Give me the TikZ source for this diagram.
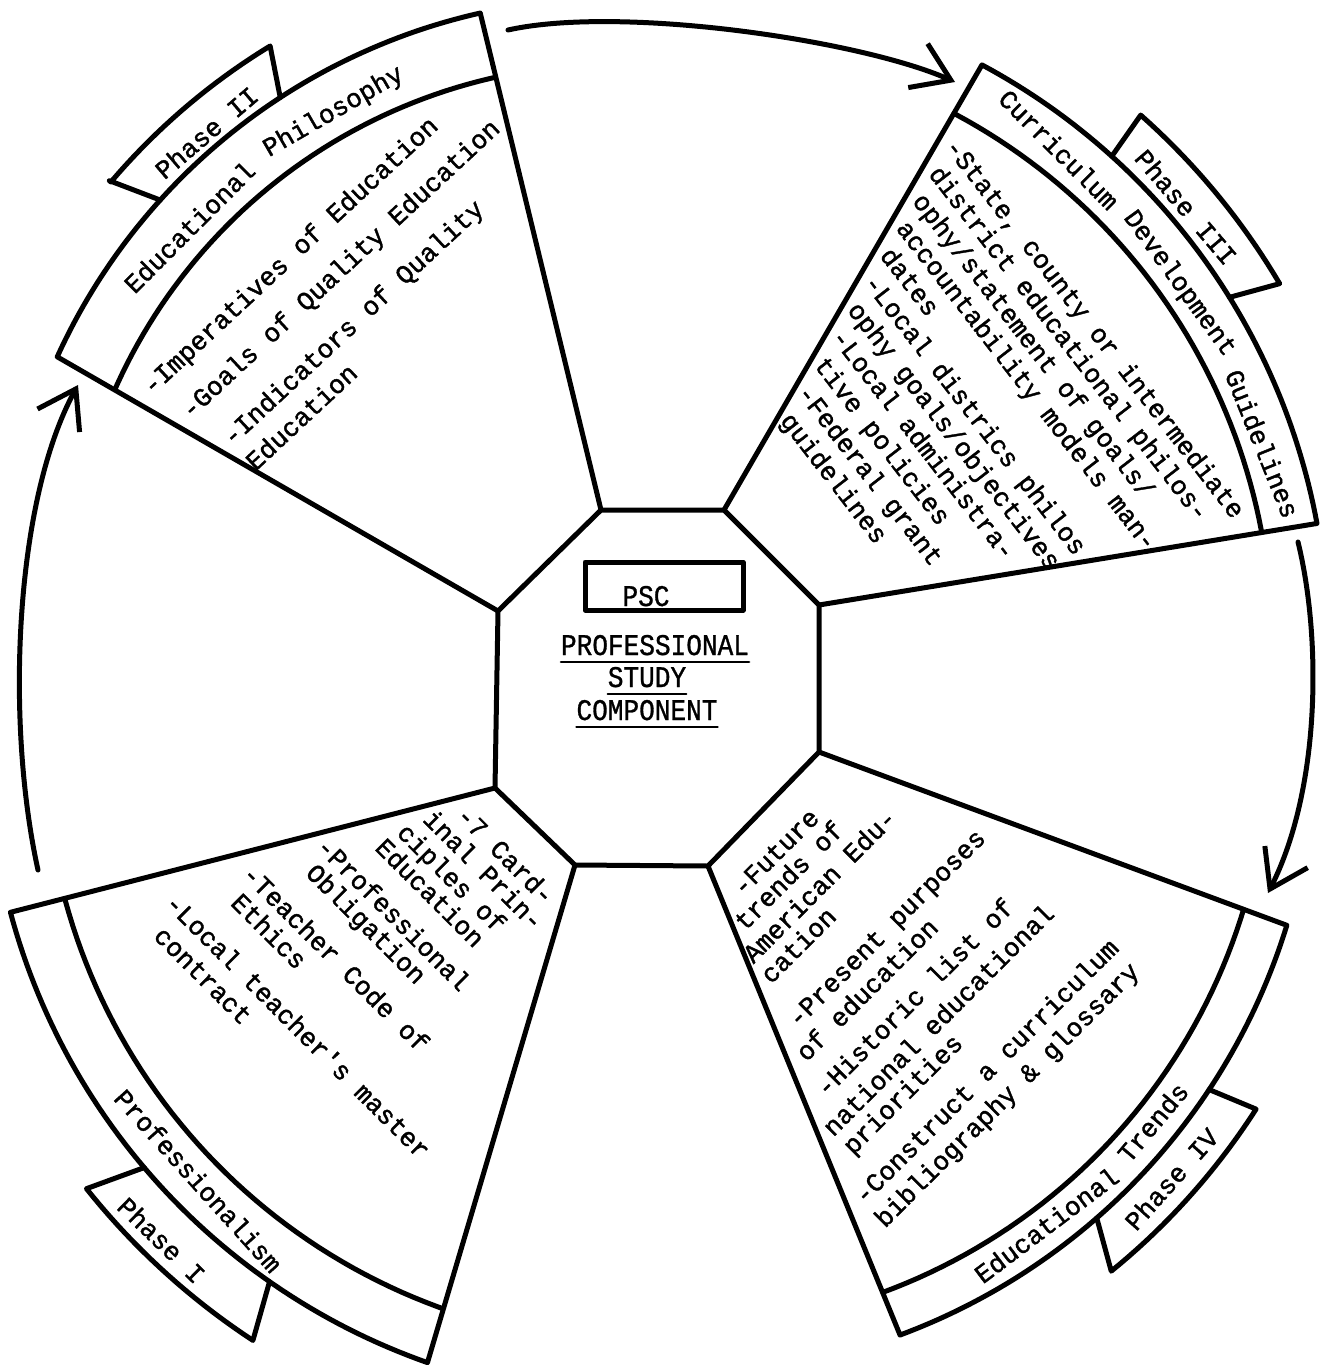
\documentclass[tikz,border=0pt]{standalone}
\usepackage{fontspec}
\newfontfamily\tw[FakeBold=1.4]{Liberation Mono}
\newfontfamily\twc[FakeStretch=0.87,FakeBold=1]{Liberation Mono}
\usetikzlibrary{arrows.meta}
\newcommand\tws{\tw\fontsize{26.2}{30}\selectfont}
\newcommand\twcs{\twc\fontsize{30}{34}\selectfont}
% one typed block: lines stacked with exact baseline gaps
\newcommand\tyblock[1]{\vtop{\baselineskip=0pt\lineskip=0pt\lineskiplimit=-1000pt\relax #1}}
\newcommand\tyfirst[2]{\hbox{\kern#1pt\relax #2}}
\newcommand\tyline[3]{\vskip#1pt\hbox{\kern#2pt\relax #3}}
\begin{document}
\begin{tikzpicture}[x=1pt,y=-1pt,line join=round,line cap=round,
  ln/.style={line width=5pt},
  uline/.style={line width=2.2pt},
  body/.style={font=\tws, anchor=base west, inner sep=0pt},
  ttl/.style={font=\tws, anchor=base, inner sep=0pt},
  ctr/.style={font=\twcs, anchor=base, inner sep=0pt},
  arr/.style={line width=5pt, -{Straight Barb[length=36pt,width=48pt]}}]
\useasboundingbox (0,0) rectangle (1328,1366);

% ---------------- central octagon
\coordinate (V1) at (601,510);
\coordinate (V2) at (724,510);
\coordinate (V3) at (819,605);
\coordinate (V4) at (819,752);
\coordinate (V5) at (708,866);
\coordinate (V6) at (575,865);
\coordinate (V7) at (495,788);
\coordinate (V8) at (498,611);
\draw[ln] (V1)--(V2)--(V3)--(V4)--(V5)--(V6)--(V7)--(V8)--cycle;

\node[draw, ln, minimum width=158pt, minimum height=48pt, inner sep=0pt] (box) at (664,586) {};
\node[ctr] (psc) at (646,606) {PSC};
\node[ctr] (pro) at (655,655) {PROFESSIONAL};
\node[ctr] (stu) at (647,687) {STUDY};
\node[ctr] (com) at (647,720) {COMPONENT};
\draw[uline] ([yshift=-7pt]pro.base west) -- ([yshift=-7pt]pro.base east);
\draw[uline] ([yshift=-7pt]stu.base west) -- ([yshift=-7pt]stu.base east);
\draw[uline] ([yshift=-7pt]com.base west) -- ([yshift=-7pt]com.base east);

% ---------------- Phase II sector (centre 615,611)
\draw[ln] (V8) -- plot[domain=204.5:257.3,samples=60] ({615+613*cos(\x)},{611+613*sin(\x)}) -- (V1);
\begin{scope}
  \clip (V8) -- plot[domain=204.5:257.3,samples=60] ({615+613*cos(\x)},{611+613*sin(\x)}) -- (V1) -- cycle;
  \draw[ln] plot[domain=195:265,samples=60] ({615+547*cos(\x)},{611+547*sin(\x)});
\end{scope}
\draw[ln] ({615+613*cos(222.1)},{611+613*sin(222.1)}) -- ({615+664*cos(220.4)},{611+664*sin(220.4)})
   -- plot[domain=220.4:238.6,samples=20] ({615+662*cos(\x)},{611+662*sin(\x)})
   -- ({615+613*cos(236.9)},{611+613*sin(236.9)});
\node[ttl, rotate=45] (t2a) at ({615+564*cos(222.0)},{611+564*sin(222.0)}) {Educational};
\node[ttl, rotate=30] (t2b) at ({615+566*cos(240.6)},{611+566*sin(240.6)}) {Philosophy};
\node[ttl, rotate=40.5] (t2p) at ({615+620*cos(229.5)},{611+620*sin(229.5)}) {Phase II};
\node[body, rotate=43] (p2) at (152,396) {\tyblock{%
  \tyfirst{0}{-Imperatives of Education}%
  \tyline{44}{12}{-Goals of Quality Education}%
  \tyline{48}{24}{-Indicators of Quality}%
  \tyline{34}{24}{Education}}};

% ---------------- Phase III sector (centre 672,643)
\draw[ln] (V2) -- plot[domain=-61.8:-10.5,samples=60] ({672+656*cos(\x)},{643+656*sin(\x)}) -- (V3);
\begin{scope}
  \clip (V2) -- plot[domain=-61.8:-10.5,samples=60] ({672+656*cos(\x)},{643+656*sin(\x)}) -- (V3) -- cycle;
  \draw[ln] plot[domain=-70:0,samples=60] ({672+600*cos(\x)},{643+600*sin(\x)});
\end{scope}
\draw[ln] ({672+656*cos(-47.9)},{643+656*sin(-47.9)}) -- ({672+706*cos(-48.4)},{643+706*sin(-48.4)})
   -- plot[domain=-48.4:-30.6,samples=20] ({672+706*cos(\x)},{643+706*sin(\x)})
   -- ({672+656*cos(-31.8)},{643+656*sin(-31.8)});
\node[ttl, rotate=-45] (t3a) at ({672+618*cos(-52.0)},{643+618*sin(-52.0)}) {Curriculum};
\node[ttl, rotate=-54] (t3b) at ({672+615*cos(-35.3)},{643+615*sin(-35.3)}) {Development};
\node[ttl, rotate=-68] (t3c) at ({672+614*cos(-18.6)},{643+614*sin(-18.6)}) {Guidelines};
\node[ttl, rotate=-49.7] (t3p) at ({672+665*cos(-40.3)},{643+665*sin(-40.3)}) {Phase III};
\node[body, rotate=-52.3] (p3) at (944,147) {\tyblock{%
  \tyfirst{0}{-State, county or intermediate}%
  \tyline{29.5}{11.6}{district educational philos-}%
  \tyline{29.5}{23.2}{ophy/statement of goals/}%
  \tyline{29.5}{34.8}{accountability models man-}%
  \tyline{29.5}{46.4}{dates}%
  \tyline{29.5}{58}{-Local districs philos}%
  \tyline{29.5}{69.6}{ophy goals/objectives}%
  \tyline{29.5}{81.2}{-Local administra-}%
  \tyline{30.5}{92.8}{tive policies}%
  \tyline{30.5}{104.4}{-Federal grant}%
  \tyline{30.5}{116}{guidelines}}};

% ---------------- Phase IV sector (centre 678,738)
\draw[ln] (V4) -- plot[domain=17.1:69.6,samples=60] ({678+637*cos(\x)},{738+637*sin(\x)}) -- (V5);
\begin{scope}
  \clip (V4) -- plot[domain=17.1:69.6,samples=60] ({678+637*cos(\x)},{738+637*sin(\x)}) -- (V5) -- cycle;
  \draw[ln] plot[domain=5:80,samples=60] ({678+591*cos(\x)},{738+591*sin(\x)});
\end{scope}
\draw[ln] ({678+637*cos(33.5)},{738+637*sin(33.5)}) -- ({678+687*cos(32.7)},{738+687*sin(32.7)})
   -- plot[domain=32.7:50.9,samples=20] ({678+687*cos(\x)},{738+687*sin(\x)})
   -- ({678+637*cos(48.9)},{738+637*sin(48.9)});
\node[ttl, rotate=37] (t4a) at ({678+620*cos(52.9)},{738+620*sin(52.9)}) {Educational};
\node[ttl, rotate=50] (t4b) at ({678+620*cos(39.0)},{738+620*sin(39.0)}) {Trends};
\node[ttl, rotate=48.2] (t4p) at ({678+671*cos(41.8)},{738+671*sin(41.8)}) {Phase IV};
\node[body, rotate=45] (p4) at (648,992) {\tyblock{%
  \tyfirst{134}{-Future}%
  \tyline{26}{111}{trends of}%
  \tyline{29}{94}{American Edu-}%
  \tyline{27}{92}{cation}%
  \tyline{50}{80}{-Present purposes}%
  \tyline{30}{62}{of education}%
  \tyline{39}{51}{-Historic list of}%
  \tyline{33}{28}{national educational}%
  \tyline{27}{29}{priorities}%
  \tyline{43}{2}{-Construct a curriculum}%
  \tyline{31}{0}{bibliography \& glossary}}};

% ---------------- Phase I sector (centre 646,742)
\draw[ln] (V6) -- plot[domain=109.4:165,samples=60] ({646+658*cos(\x)},{742+658*sin(\x)}) -- (V7);
\begin{scope}
  \clip (V6) -- plot[domain=109.4:165,samples=60] ({646+658*cos(\x)},{742+658*sin(\x)}) -- (V7) -- cycle;
  \draw[ln] plot[domain=100:175,samples=60] ({646+602*cos(\x)},{742+602*sin(\x)});
\end{scope}
\draw[ln] ({646+658*cos(139.7)},{742+658*sin(139.7)}) -- ({646+716*cos(141.4)},{742+716*sin(141.4)})
   -- plot[domain=141.4:123.3,samples=20] ({646+716*cos(\x)},{742+716*sin(\x)})
   -- ({646+658*cos(124.9)},{742+658*sin(124.9)});
\node[ttl, rotate=-48] (t1a) at ({646+636*cos(135.6)},{742+636*sin(135.6)}) {Professionalism};
\node[ttl, rotate=-44.2] (t1p) at ({646+704*cos(134.2)},{742+704*sin(134.2)}) {Phase I};
\node[body, rotate=-45] (p1) at (353.2,715.2) {\tyblock{%
  \tyfirst{144}{-7 Card-}%
  \tyline{26}{123}{inal Prin-}%
  \tyline{28}{114}{ciples of}%
  \tyline{26}{109}{Education}%
  \tyline{41}{67}{-Professional}%
  \tyline{26}{78}{Obligation}%
  \tyline{46}{34}{-Teacher Code of}%
  \tyline{28}{46}{Ethics}%
  \tyline{47}{0}{-Local teacher's master}%
  \tyline{31}{15}{contract}}};

% ---------------- cycle arrows
\coordinate (a1s) at (508,30);  \coordinate (a1e) at (955,82);
\coordinate (a2s) at (1298,542); \coordinate (a2e) at (1268,893);
\coordinate (a3s) at (38,870);  \coordinate (a3e) at (78,385);
\draw[arr] (a1s) .. controls (620,5) and (860,40) .. (a1e);
\draw[arr] (a2s) .. controls (1322,640) and (1320,790) .. (a2e);
\draw[arr] (a3s) .. controls (5,720) and (15,500) .. (a3e);
\end{tikzpicture}
\end{document}
